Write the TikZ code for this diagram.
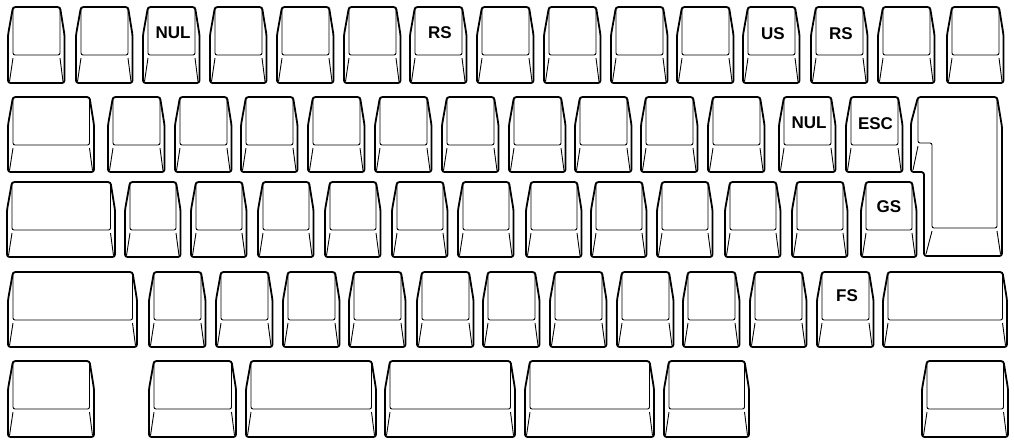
\documentclass[tikz,border=0pt]{standalone}
\usepackage{fontspec}
\setmainfont{Liberation Sans}
\tikzset{
  keyout/.style={line width=1.8pt, rounded corners=2.5pt, line join=round},
  keyin/.style={line width=0.9pt, rounded corners=2pt},
  keyslant/.style={line width=0.9pt},
  keylabel/.style={font=\fontsize{17}{19}\selectfont\bfseries, inner sep=0pt},
}
% #1 left, #2 right, #3 top, #4 bottom (y grows downward)
\newcommand{\kcap}[4]{%
  \draw[keyout] ({#1+5},{#3}) -- ({#2-4.5},{#3}) -- ({#2},{#3+28}) -- ({#2},{#4}) -- ({#1},{#4}) -- ({#1},{#3+28}) -- cycle;
  \draw[keyin] ({#1+5},{#3}) -- ({#1+5},{#3+48}) -- ({#2-4.5},{#3+48}) -- ({#2-4.5},{#3});
  \draw[keyslant] ({#1+5},{#3+51}) -- ({#1+1.5},{#4-1.5}) ({#2-4.5},{#3+51}) -- ({#2-1.5},{#4-1.5});
}
\begin{document}
\begin{tikzpicture}[x=1pt,y=-1pt]
\useasboundingbox (0,0) rectangle (1014,440);
\fill[white] (0,0) rectangle (1014,440);
% Row 1
\foreach \x in {8,76,143,210,277,344,410,477,544,611,677,743,811,878,947}
  {\kcap{\x}{\x+56.5}{7}{83}}
% Row 2
\kcap{8}{94}{97}{172}
\foreach \x in {108,175,241,308,375,442,509,575,641,708,779,846}
  {\kcap{\x}{\x+56.5}{97}{172}}
% Row 3
\kcap{7}{115}{182}{257}
\foreach \x in {125,191,258,325,392,458,526,591,657,725,792,861}
  {\kcap{\x}{\x+55.5}{182}{257}}
% Enter key (rows 2-3)
\draw[keyout] (918,97) -- (997,97) -- (1002,127) -- (1002,256) -- (924,256) -- (924,172) -- (911,172) -- (911,123) -- cycle;
\draw[keyin] (918,97) -- (918,143) -- (932,143) -- (932,228) -- (997,228) -- (997,97);
\draw[keyslant] (918,146) -- (913,170) (932,231) -- (926,254) (997,231) -- (1000.5,254);
% Row 4
\kcap{8}{137}{272}{347}
\foreach \x in {149,216,283,349,417,483,550,617,683,750,817}
  {\kcap{\x}{\x+56.5}{272}{347}}
\kcap{883}{1007}{272}{347}
% Row 5
\kcap{8}{94}{361}{437}
\kcap{149}{236}{361}{437}
\kcap{246}{376}{361}{437}
\kcap{385}{515}{361}{437}
\kcap{525}{654}{361}{437}
\kcap{664}{749}{361}{437}
\kcap{922}{1008}{361}{437}
% Labels
\node[keylabel] (l1) at (173,33) {NUL};
\node[keylabel] (l2) at (440,33) {RS};
\node[keylabel] (l3) at (773,34) {US};
\node[keylabel] (l4) at (841,34) {RS};
\node[keylabel] (l5) at (809,123) {NUL};
\node[keylabel] (l6) at (875.5,124) {ESC};
\node[keylabel] (l7) at (889,207) {GS};
\node[keylabel] (l8) at (847,296) {FS};
\end{tikzpicture}
\end{document}
